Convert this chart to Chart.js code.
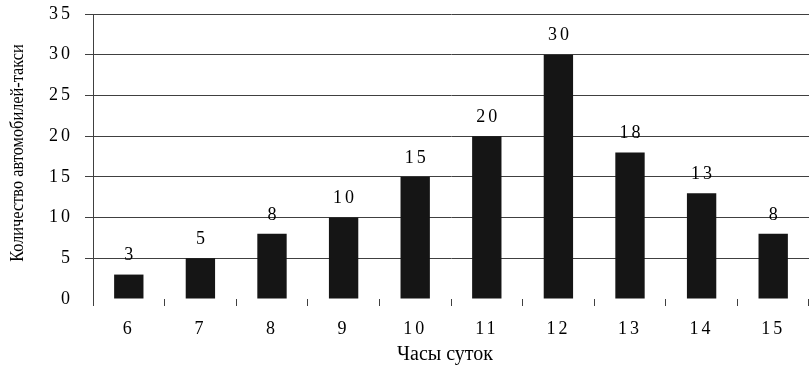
<!DOCTYPE html>
<html>
<head>
<meta charset="utf-8">
<script src="https://cdn.jsdelivr.net/npm/chart.js@4"></script>
<style>
  html, body { margin: 0; padding: 0; background: #fff; }
  #wrap { width: 809px; height: 375px; position: relative; }
</style>
</head>
<body>
<div id="wrap"><canvas id="c" width="809" height="375"></canvas></div>
<script>
// Hours of the day and number of taxis per hour
const hours = ['6', '7', '8', '9', '10', '11', '12', '13', '14', '15'];
const taxiCounts = [3, 5, 8, 10, 15, 20, 30, 18, 13, 8];
const yTitle = 'Количество автомобилей-такси';
const xTitle = 'Часы суток';

const SERIF = '"Liberation Serif", "DejaVu Serif", serif';
const GRID = '#404040';
const NUM_SPACING = '3px';

// Wide-spaced digits for every numeric label drawn by the scales
const spacingPlugin = {
  id: 'spacing',
  beforeDraw(chart) {
    chart.ctx.letterSpacing = NUM_SPACING;
  }
};

// Value labels above each bar plus both axis titles
const labelsPlugin = {
  id: 'labels',
  afterDatasetsDraw(chart) {
    const ctx = chart.ctx;
    const meta = chart.getDatasetMeta(0);
    ctx.save();
    ctx.fillStyle = '#000';
    ctx.letterSpacing = NUM_SPACING;
    ctx.font = '18px ' + SERIF;
    ctx.textAlign = 'center';
    ctx.textBaseline = 'middle';
    meta.data.forEach((bar, i) => {
      ctx.fillText(String(taxiCounts[i]), bar.x + 1.5, bar.y - 19);
    });
    ctx.letterSpacing = '0px';
    ctx.font = '20px ' + SERIF;
    ctx.fillText(xTitle, 445, 355);
    // condensed vertical title
    ctx.font = '19px ' + SERIF;
    ctx.translate(18, 153);
    ctx.rotate(-Math.PI / 2);
    ctx.scale(0.86, 1);
    ctx.fillText(yTitle, 0, 0);
    ctx.restore();
  }
};

new Chart(document.getElementById('c'), {
  type: 'bar',
  data: {
    labels: hours,
    datasets: [{
      data: taxiCounts,
      backgroundColor: '#151515',
      borderWidth: 0,
      categoryPercentage: 1,
      barPercentage: 0.41
    }]
  },
  options: {
    responsive: false,
    animation: false,
    events: [],
    layout: { padding: { top: 14, right: 0, left: 0, bottom: 0 } },
    plugins: { legend: { display: false }, tooltip: { enabled: false } },
    scales: {
      x: {
        offset: true,
        grid: {
          offset: true,
          drawOnChartArea: false,
          drawTicks: true,
          tickLength: 7,
          color: GRID
        },
        border: { display: false },
        ticks: {
          color: '#000',
          font: { family: SERIF, size: 18 },
          padding: 12
        },
        afterFit(scale) {
          scale.height = 76;
          scale.paddingLeft = 0;
          scale.paddingRight = 0;
        }
      },
      y: {
        min: 0,
        max: 35,
        ticks: {
          stepSize: 5,
          color: '#000',
          font: { family: SERIF, size: 18 },
          padding: 12
        },
        grid: {
          color: (c) => (c.tick && c.tick.value === 0 ? 'rgba(0,0,0,0)' : GRID),
          tickLength: 8,
          lineWidth: 1
        },
        border: { display: true, color: GRID, width: 1 },
        afterFit(scale) {
          scale.width = 93;
          scale.paddingTop = 0;
          scale.paddingBottom = 0;
        }
      }
    }
  },
  plugins: [spacingPlugin, labelsPlugin]
});
</script>
</body>
</html>
